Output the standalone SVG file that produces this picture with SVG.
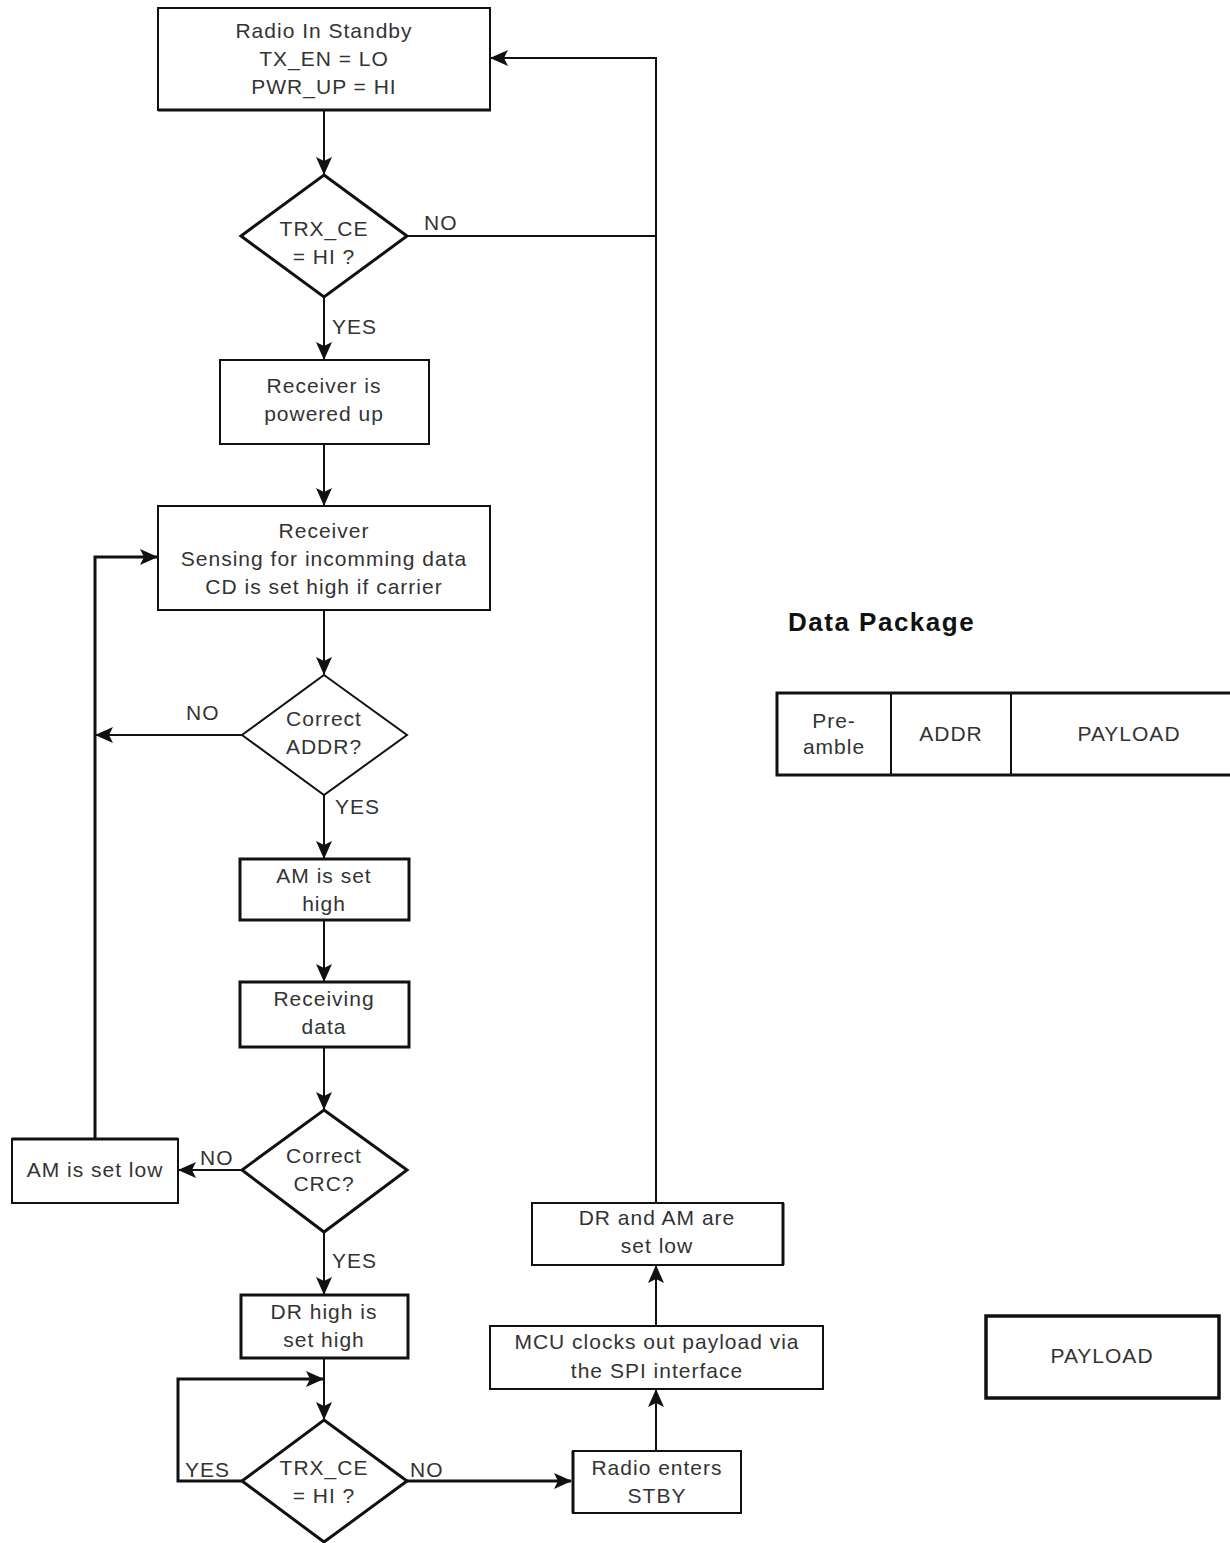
<svg xmlns="http://www.w3.org/2000/svg" width="1230" height="1543" viewBox="0 0 1230 1543">
<style>
  .box{fill:#fff;stroke:#111;stroke-width:2}
  .thick{fill:#fff;stroke:#111;stroke-width:3}
  .t{font-family:"Liberation Sans",Arial,sans-serif;font-size:21px;fill:#333;text-anchor:middle;letter-spacing:1px}
  .l{font-family:"Liberation Sans",Arial,sans-serif;font-size:21px;fill:#333;letter-spacing:1px}
  .c{fill:none;stroke:#111;stroke-width:2}
  .c3{fill:none;stroke:#111;stroke-width:3}
</style>
<defs>
  <marker id="ah" viewBox="0 0 18 18" refX="17" refY="9" markerWidth="18" markerHeight="18" markerUnits="userSpaceOnUse" orient="auto">
    <path d="M0,1 L18,9 L0,17 L4,9 z" fill="#111"/>
  </marker>
</defs>
<rect width="1230" height="1543" fill="#fff"/>

<g id="connectors">
  <line class="c" x1="324" y1="110" x2="324" y2="174" marker-end="url(#ah)"/>
  <polyline class="c" points="407,236 656,236"/>
  <polyline class="c" points="656,1203 656,58 491,58" marker-end="url(#ah)"/>
  <line class="c" x1="324" y1="297" x2="324" y2="359" marker-end="url(#ah)"/>
  <line class="c" x1="324" y1="444" x2="324" y2="505" marker-end="url(#ah)"/>
  <line class="c" x1="324" y1="610" x2="324" y2="674" marker-end="url(#ah)"/>
  <line class="c" x1="242" y1="735" x2="96" y2="735" marker-end="url(#ah)"/>
  <polyline class="c3" points="95,1139 95,557 157,557" marker-end="url(#ah)"/>
  <line class="c" x1="324" y1="795" x2="324" y2="858" marker-end="url(#ah)"/>
  <line class="c" x1="324" y1="920" x2="324" y2="981" marker-end="url(#ah)"/>
  <line class="c" x1="324" y1="1047" x2="324" y2="1109" marker-end="url(#ah)"/>
  <line class="c" x1="242" y1="1170" x2="179" y2="1170" marker-end="url(#ah)"/>
  <line class="c" x1="324" y1="1232" x2="324" y2="1294" marker-end="url(#ah)"/>
  <line class="c" x1="324" y1="1358" x2="324" y2="1419" marker-end="url(#ah)"/>
  <polyline class="c3" points="242,1481 178,1481 178,1379 323,1379" marker-end="url(#ah)"/>
  <line class="c3" x1="407" y1="1481" x2="571" y2="1481" marker-end="url(#ah)"/>
  <line class="c" x1="656" y1="1451" x2="656" y2="1390" marker-end="url(#ah)"/>
  <line class="c" x1="656" y1="1326" x2="656" y2="1266" marker-end="url(#ah)"/>
</g>

<g id="standby">
  <rect class="box" x="158" y="8" width="332" height="102"/>
  <line x1="158" y1="110" x2="491" y2="110" stroke="#111" stroke-width="3"/>
  <text class="t" x="324" y="38">Radio In Standby</text>
  <text class="t" x="324" y="66">TX_EN = LO</text>
  <text class="t" x="324" y="94">PWR_UP = HI</text>
</g>
<g id="trxce1">
  <polygon class="thick" points="324,175 407,236 324,297 241,236"/>
  <text class="t" x="324" y="236">TRX_CE</text>
  <text class="t" x="324" y="264">= HI ?</text>
</g>
<text class="l" x="424" y="230">NO</text>
<text class="l" x="332" y="334">YES</text>

<g id="powered">
  <rect class="box" x="220" y="360" width="209" height="84"/>
  <text class="t" x="324" y="393">Receiver is</text>
  <text class="t" x="324" y="421">powered up</text>
</g>
<g id="sensing">
  <rect class="box" x="158" y="506" width="332" height="104"/>
  <text class="t" x="324" y="538">Receiver</text>
  <text class="t" x="324" y="566">Sensing for incomming data</text>
  <text class="t" x="324" y="594">CD is set high if carrier</text>
</g>
<g id="addr">
  <polygon class="box" points="324,675 407,735 324,795 242,735"/>
  <text class="t" x="324" y="726">Correct</text>
  <text class="t" x="324" y="754">ADDR?</text>
</g>
<text class="l" x="186" y="720">NO</text>
<text class="l" x="335" y="814">YES</text>

<g id="amhigh">
  <rect class="thick" x="240" y="859" width="169" height="61"/>
  <text class="t" x="324" y="883">AM is set</text>
  <text class="t" x="324" y="911">high</text>
</g>
<g id="receiving">
  <rect class="thick" x="240" y="982" width="169" height="65"/>
  <text class="t" x="324" y="1006">Receiving</text>
  <text class="t" x="324" y="1034">data</text>
</g>
<g id="crc">
  <polygon class="thick" points="324,1110 407,1170 324,1232 242,1170"/>
  <text class="t" x="324" y="1163">Correct</text>
  <text class="t" x="324" y="1191">CRC?</text>
</g>
<text class="l" x="200" y="1165">NO</text>
<text class="l" x="332" y="1268">YES</text>

<g id="amlow">
  <rect class="box" x="12" y="1139" width="166" height="64"/>
  <line x1="12" y1="1139" x2="178" y2="1139" stroke="#111" stroke-width="3"/>
  <text class="t" x="95" y="1177">AM is set low</text>
</g>
<g id="drhigh">
  <rect class="thick" x="241" y="1295" width="167" height="63"/>
  <text class="t" x="324" y="1319">DR high is</text>
  <text class="t" x="324" y="1347">set high</text>
</g>
<g id="trxce2">
  <polygon class="thick" points="324,1420 407,1481 324,1542 242,1481"/>
  <text class="t" x="324" y="1475">TRX_CE</text>
  <text class="t" x="324" y="1503">= HI ?</text>
</g>
<text class="l" x="185" y="1477">YES</text>
<text class="l" x="410" y="1477">NO</text>

<g id="stby">
  <rect class="box" x="573" y="1451" width="168" height="62"/>
  <line x1="573" y1="1451" x2="573" y2="1513" stroke="#111" stroke-width="3"/>
  <text class="t" x="657" y="1475">Radio enters</text>
  <text class="t" x="657" y="1503">STBY</text>
</g>
<g id="mcu">
  <rect class="box" x="490" y="1326" width="333" height="63"/>
  <text class="t" x="657" y="1349">MCU clocks out payload via</text>
  <text class="t" x="657" y="1378">the SPI interface</text>
</g>
<g id="drlow">
  <rect class="box" x="532" y="1203" width="251" height="62"/>
  <line x1="783" y1="1203" x2="783" y2="1265" stroke="#111" stroke-width="3"/>
  <text class="t" x="657" y="1225">DR and AM are</text>
  <text class="t" x="657" y="1253">set low</text>
</g>

<g id="datapackage">
  <text x="788" y="631" font-family="'Liberation Sans',Arial,sans-serif" font-size="26" font-weight="bold" letter-spacing="1.5" fill="#111">Data Package</text>
  <rect x="777" y="693" width="460" height="82" fill="#fff" stroke="#111" stroke-width="3"/>
  <line x1="891" y1="693" x2="891" y2="775" stroke="#111" stroke-width="2"/>
  <line x1="1011" y1="693" x2="1011" y2="775" stroke="#111" stroke-width="2"/>
  <text class="t" x="834" y="728">Pre-</text>
  <text class="t" x="834" y="754">amble</text>
  <text class="t" x="951" y="741">ADDR</text>
  <text class="t" x="1129" y="741">PAYLOAD</text>
</g>
<g id="payload">
  <rect x="986" y="1316" width="233" height="82" fill="#fff" stroke="#111" stroke-width="3.5"/>
  <text class="t" x="1102" y="1363">PAYLOAD</text>
</g>
</svg>
